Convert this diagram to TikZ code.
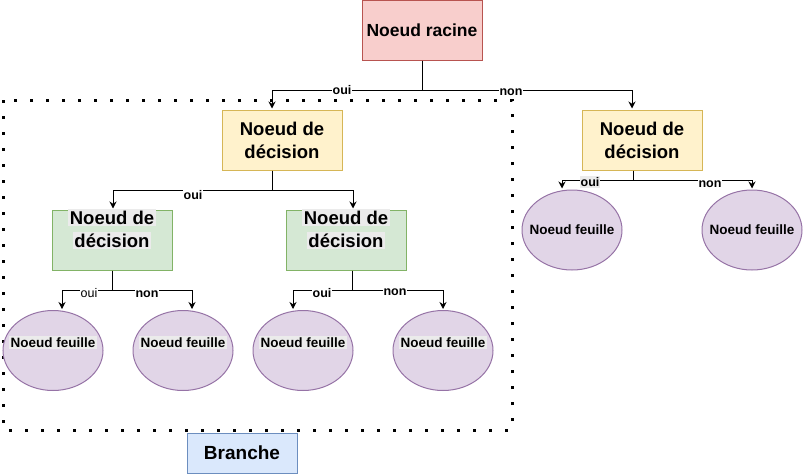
\documentclass[tikz,border=0pt]{standalone}
\usepackage{fontspec}
\setmainfont{Liberation Sans}
\usetikzlibrary{shapes.geometric,arrows.meta}
\definecolor{racinefill}{HTML}{F8CECC}
\definecolor{racinedraw}{HTML}{B85450}
\definecolor{decfill}{HTML}{FFF2CC}
\definecolor{decdraw}{HTML}{D6B656}
\definecolor{sousfill}{HTML}{D5E8D4}
\definecolor{sousdraw}{HTML}{82B366}
\definecolor{feuillefill}{HTML}{E1D5E7}
\definecolor{feuilledraw}{HTML}{9673A6}
\definecolor{branchefill}{HTML}{DAE8FC}
\definecolor{branchedraw}{HTML}{6C8EBF}
\definecolor{grisfond}{HTML}{EBEBEB}
\newcommand{\surligne}[1]{{\setlength{\fboxsep}{1.5pt}\colorbox{grisfond}{#1}}}
\newcommand{\remonte}[2]{\raisebox{#1}[\height][\depth]{\begin{tabular}{@{}c@{}}#2\end{tabular}}}
\begin{document}
\begin{tikzpicture}[x=1pt, y=-1pt, line width=1pt, >={Stealth[length=7pt,width=7pt]},
racine node/.style={rectangle,draw=racinedraw,fill=racinefill,minimum width=120pt,minimum height=60pt,inner sep=0pt,font=\fontsize{17.5}{20}\selectfont\bfseries},
dec node/.style={rectangle,draw=decdraw,fill=decfill,minimum width=120pt,minimum height=60pt,inner sep=0pt,align=center,font=\fontsize{18.5}{23}\selectfont\bfseries},
sous node/.style={dec node,draw=sousdraw,fill=sousfill},
leaf node/.style={ellipse,draw=feuilledraw,fill=feuillefill,minimum width=100pt,minimum height=80pt,inner sep=0pt,font=\fontsize{13.5}{16}\selectfont\bfseries},
haut/.style={text height=10pt,text depth=16pt},
lbl/.style={fill=white,inner sep=1pt,font=\fontsize{12.5}{14}\selectfont\bfseries}]
\useasboundingbox (0,0) rectangle (803,474);
%branche
\draw[line width=3pt,dash pattern=on 3pt off 13pt] (3,100) rectangle (512,430);
\begin{scope}
\node[racine node] (racine) at (422,30) {Noeud racine};
\node[dec node] (dec1) at (282,140) {Noeud de\\décision};
\node[dec node] (dec2) at (642,140) {Noeud de\\décision};
\node[sous node] (dec11) at (112,240) {\remonte{9pt}{\surligne{Noeud de}\\\surligne{décision}}};
\node[sous node] (dec12) at (346,240) {\remonte{9pt}{\surligne{Noeud de}\\\surligne{décision}}};
\node[leaf node,haut] (f1) at (53,350.5) {\makebox[0pt]{\surligne{Noeud feuille}}};
\node[leaf node,haut] (f2) at (183,350.5) {\makebox[0pt]{\surligne{Noeud feuille}}};
\node[leaf node,haut] (f3) at (303,350.5) {\makebox[0pt]{\surligne{Noeud feuille}}};
\node[leaf node,haut] (f4) at (443,350.5) {\makebox[0pt]{\surligne{Noeud feuille}}};
\node[leaf node] (f5) at (572,230) {\makebox[0pt]{Noeud feuille}};
\node[leaf node] (f6) at (752,230) {\makebox[0pt]{Noeud feuille}};
\node[rectangle,draw=branchedraw,fill=branchefill,minimum width=110pt,minimum height=40pt,font=\fontsize{19}{22}\selectfont\bfseries] (branche) at (242,453) {Branche};
\end{scope}
\begin{scope}[->, shorten >=1pt]
\draw (racine.south) -- ++(0,30) -| ([xshift=-10pt]dec1.north);
\draw (racine.south) -- ++(0,30) -| ([xshift=-10pt]dec2.north);
\draw ([xshift=-10pt]dec1.south) -- ++(0,20) -| ([xshift=1pt]dec11.north);
\draw ([xshift=-10pt]dec1.south) -- ++(0,20) -| ([xshift=7pt]dec12.north);
\draw (dec11.south) -- ++(0,20) -| ([xshift=9pt]f1.north);
\draw (dec11.south) -- ++(0,20) -| ([xshift=9pt]f2.north);
\draw ([xshift=6pt]dec12.south) -- ++(0,20) -| ([xshift=-10pt]f3.north);
\draw ([xshift=6pt]dec12.south) -- ++(0,20) -| (f4.north);
\draw ([xshift=-9pt]dec2.south) -- ++(0,10) -| ([xshift=-10pt]f5.north);
\draw ([xshift=-9pt]dec2.south) -- ++(0,10) -| (f6.north);
\end{scope}
\begin{scope}[every node/.style={lbl}]
\node (o1) at (342,90) {oui};
\node (n1) at (511,92) {non};
\node (o2) at (193,195) {oui};
\node[font=\fontsize{12.5}{14}\selectfont] (o3) at (89,293) {oui};
\node (n3) at (147,294) {non};
\node (o4) at (322,293) {oui};
\node (n4) at (395,292) {non};
\node[fill=grisfond] (o5) at (590,182) {oui};
\node (n5) at (710,184) {non};
\end{scope}
\end{tikzpicture}
\end{document}
